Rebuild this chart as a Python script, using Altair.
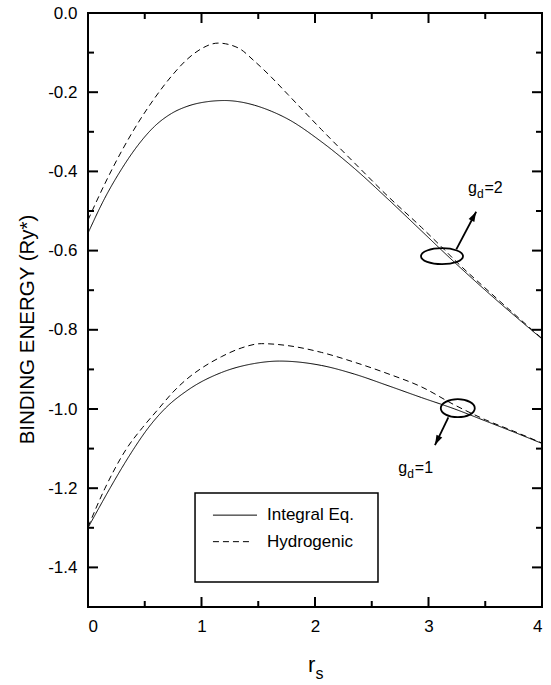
import altair as alt
import pandas as pd

# ---------------- data ----------------
g2_int_x = [0, 0.147, 0.294, 0.44, 0.587, 0.734, 0.881, 1.05, 1.204, 1.35, 1.468, 1.615, 1.762, 2.056, 2.349, 2.643, 2.937, 3.231, 3.524, 3.818, 4.0]
g2_int_y = [-0.556, -0.468, -0.395, -0.334, -0.286, -0.254, -0.235, -0.224, -0.221, -0.225, -0.233, -0.248, -0.268, -0.325, -0.393, -0.470, -0.550, -0.630, -0.706, -0.779, -0.823]

g2_hyd_x = [0, 0.147, 0.294, 0.44, 0.587, 0.734, 0.881, 1.0, 1.145, 1.322, 1.468, 1.615, 1.762, 2.056, 2.349, 2.643, 2.937, 3.113, 3.231, 3.524, 3.818, 4.0]
g2_hyd_y = [-0.523, -0.432, -0.350, -0.278, -0.215, -0.160, -0.115, -0.090, -0.076, -0.088, -0.122, -0.162, -0.206, -0.294, -0.379, -0.463, -0.541, -0.590, -0.624, -0.701, -0.776, -0.822]

g1_int_x = [0, 0.1, 0.194, 0.3, 0.4, 0.53, 0.675, 0.881, 1.175, 1.468, 1.689, 2.056, 2.349, 2.643, 2.937, 3.231, 3.5, 3.75, 4.0]
g1_int_y = [-1.300, -1.248, -1.200, -1.148, -1.102, -1.048, -1.0, -0.952, -0.908, -0.885, -0.879, -0.890, -0.912, -0.941, -0.971, -1.0, -1.03, -1.058, -1.087]

g1_hyd_x = [0, 0.15, 0.34, 0.48, 0.62, 0.75, 0.881, 1.0, 1.175, 1.35, 1.527, 1.762, 2.056, 2.349, 2.643, 2.937, 3.231, 3.5, 3.75, 4.0]
g1_hyd_y = [-1.298, -1.2, -1.1, -1.047, -1.0, -0.957, -0.922, -0.897, -0.868, -0.846, -0.835, -0.840, -0.857, -0.882, -0.911, -0.944, -0.990, -1.027, -1.056, -1.086]

methods = ["Integral Eq.", "Hydrogenic"]

x_major = [0, 1, 2, 3, 4]
x_minor = [0.5, 1.5, 2.5, 3.5]
y_major = [0.0, -0.2, -0.4, -0.6, -0.8, -1.0, -1.2, -1.4]
y_minor = [-0.1, -0.3, -0.5, -0.7, -0.9, -1.1, -1.3]

# annotations (data coordinates)
ell_x = [3.119, 3.258]
ell_y = [-0.614, -0.998]
arrow_x = [3.245, 3.175]
arrow_y = [-0.597, -1.021]
arrow_x2 = [3.42, 3.057]
arrow_y2 = [-0.502, -1.091]
arrow_angle = [28, 206]
lab_x = [3.348, 2.734]
lab_y = [-0.455, -1.162]
lab_rest = ["=2", "=1"]

legend_box = dict(x=[0.943], x2=[2.555], y=[-1.212], y2=[-1.437])
legend_line_x = [1.101, 1.101]
legend_line_x2 = [1.489, 1.445]
legend_line_y = [-1.268, -1.335]
legend_text_x = [1.577, 1.577]

FONT = "Liberation Sans"
W, H = 454, 594

# ---------------- tables ----------------
rows = []
for name, xs, ys, m in [("g2_int", g2_int_x, g2_int_y, methods[0]),
                        ("g2_hyd", g2_hyd_x, g2_hyd_y, methods[1]),
                        ("g1_int", g1_int_x, g1_int_y, methods[0]),
                        ("g1_hyd", g1_hyd_x, g1_hyd_y, methods[1])]:
    for xv, yv in zip(xs, ys):
        rows.append({"x": xv, "y": yv, "curve": name, "method": m})
curves_df = pd.DataFrame(rows)

xs_ = alt.Scale(domain=[0, 4], nice=False, zero=False)
ys_ = alt.Scale(domain=[-1.5, 0], nice=False, zero=False)

x_axis = alt.Axis(values=x_major, format="d", ticks=False, domain=False, grid=False,
                  labelFont=FONT, labelFontSize=17, labelPadding=11, labelColor="black",
                  title=None)
y_axis = alt.Axis(values=y_major,
                  labelExpr="datum.value == 0 ? '0.0' : '-' + format(-datum.value, '.1f')",
                  ticks=False, domain=False, grid=False,
                  labelFont=FONT, labelFontSize=17, labelPadding=11, labelColor="black",
                  title="BINDING ENERGY (Ry*)", titleFont=FONT, titleFontSize=20.5,
                  titleFontWeight="normal", titleColor="black", titleAngle=270,
                  titleX=-55, titleY=316, titleAlign="center", titleBaseline="alphabetic")


def X(f="x"):
    return alt.X(f"{f}:Q", scale=xs_, axis=x_axis)


def Y(f="y"):
    return alt.Y(f"{f}:Q", scale=ys_, axis=y_axis)


dash_scale = alt.Scale(domain=methods, range=[[1, 0], [6, 4]])

curves = alt.Chart(curves_df).mark_line(color="black", strokeWidth=1, clip=True,
                                         interpolate="monotone").encode(
    x=X(), y=Y(), detail="curve:N",
    strokeDash=alt.StrokeDash("method:N", scale=dash_scale, legend=None))

# ticks (inward) on all four sides
ymaj = pd.DataFrame({"y": y_major})
ymin = pd.DataFrame({"y": y_minor})
xmaj = pd.DataFrame({"x": x_major})
xmin = pd.DataFrame({"x": x_minor})
tk = dict(color="black", strokeWidth=2)
ticks = [
    alt.Chart(ymaj).mark_rule(**tk).encode(y=Y(), x=alt.value(0), x2=alt.value(10)),
    alt.Chart(ymin).mark_rule(**tk).encode(y=Y(), x=alt.value(0), x2=alt.value(6)),
    alt.Chart(ymaj).mark_rule(**tk).encode(y=Y(), x=alt.value(W - 10), x2=alt.value(W)),
    alt.Chart(ymin).mark_rule(**tk).encode(y=Y(), x=alt.value(W - 6), x2=alt.value(W)),
    alt.Chart(xmaj).mark_rule(**tk).encode(x=X(), y=alt.value(H - 10), y2=alt.value(H)),
    alt.Chart(xmin).mark_rule(**tk).encode(x=X(), y=alt.value(H - 6), y2=alt.value(H)),
    alt.Chart(xmaj).mark_rule(**tk).encode(x=X(), y=alt.value(0), y2=alt.value(10)),
    alt.Chart(xmin).mark_rule(**tk).encode(x=X(), y=alt.value(0), y2=alt.value(6)),
]

# legend (drawn)
box = alt.Chart(pd.DataFrame(legend_box)).mark_rect(fill="white", stroke="black", strokeWidth=1.5).encode(
    x=X(), x2="x2:Q", y=Y(), y2="y2:Q")
leg_df = pd.DataFrame({"x": legend_line_x, "x2": legend_line_x2, "y": legend_line_y,
                       "method": methods, "tx": legend_text_x})
leg_lines = alt.Chart(leg_df).mark_rule(color="black", strokeWidth=1).encode(
    x=X(), x2="x2:Q", y=Y(),
    strokeDash=alt.StrokeDash("method:N", scale=dash_scale, legend=None))
leg_text = alt.Chart(leg_df).mark_text(align="left", baseline="middle", font=FONT, fontSize=17,
                                       color="black").encode(x=X("tx"), y=Y(), text="method:N")


# ellipses, arrows, labels
def ellipse_path(r):
    k = 0.5523
    return (f"M-1,0 C-1,{-k*r:.3f} {-k:.3f},{-r:.3f} 0,{-r:.3f} C{k:.3f},{-r:.3f} 1,{-k*r:.3f} 1,0 "
            f"C1,{k*r:.3f} {k:.3f},{r:.3f} 0,{r:.3f} C{-k:.3f},{r:.3f} -1,{k*r:.3f} -1,0 Z")


ell1 = alt.Chart(pd.DataFrame({"x": ell_x[:1], "y": ell_y[:1]})).mark_point(
    shape=ellipse_path(0.381), size=42 * 42, filled=False, color="black", strokeWidth=1.8, opacity=1
).encode(x=X(), y=Y())
ell2 = alt.Chart(pd.DataFrame({"x": ell_x[1:], "y": ell_y[1:]})).mark_point(
    shape=ellipse_path(0.53), size=34 * 34, filled=False, color="black", strokeWidth=1.8, opacity=1
).encode(x=X(), y=Y())

arr_df = pd.DataFrame({"x": arrow_x, "y": arrow_y, "x2": arrow_x2, "y2": arrow_y2, "angle": arrow_angle})
shafts = alt.Chart(arr_df).mark_rule(color="black", strokeWidth=1.8).encode(
    x=X(), y=Y(), x2="x2:Q", y2="y2:Q")
heads = alt.Chart(arr_df).mark_point(shape="M0,0 L0.32,1 L-0.32,1 Z", size=400, filled=True,
                                     color="black", opacity=1).encode(
    x=X("x2"), y=Y("y2"), angle=alt.Angle("angle:Q", scale=None))

lab_df = pd.DataFrame({"x": lab_x, "y": lab_y, "rest": lab_rest})
lab_g = alt.Chart(lab_df).mark_text(text="g", align="left", baseline="alphabetic", font=FONT,
                                    fontSize=16, color="black").encode(x=X(), y=Y())
lab_d = alt.Chart(lab_df).mark_text(text="d", align="left", baseline="alphabetic", font=FONT,
                                    fontSize=12, color="black", dx=9, dy=5).encode(x=X(), y=Y())
lab_r = alt.Chart(lab_df).mark_text(align="left", baseline="alphabetic", font=FONT,
                                    fontSize=16, color="black", dx=16.5).encode(x=X(), y=Y(), text="rest:N")

xt_df = pd.DataFrame({"x": [1.938]})
xt_r = alt.Chart(xt_df).mark_text(text="r", align="left", baseline="alphabetic", font=FONT,
                                  fontSize=22, color="black").encode(x=X(), y=alt.value(659))
xt_s = alt.Chart(xt_df).mark_text(text="s", align="left", baseline="alphabetic", font=FONT,
                                  fontSize=16, color="black", dx=7.5, dy=6.5).encode(x=X(), y=alt.value(659))

chart = alt.layer(
    curves, *ticks, box, leg_lines, leg_text, ell1, ell2, shafts, heads,
    lab_g, lab_d, lab_r, xt_r, xt_s
).properties(
    width=W, height=H,
    autosize=alt.AutoSizeParams(type="none"),
    padding={"left": 88, "top": 13, "right": 9, "bottom": 78},
    background="white",
).configure_view(stroke="black", strokeWidth=2)

chart.save("out.html", embed_options={"renderer": "svg", "actions": False})
